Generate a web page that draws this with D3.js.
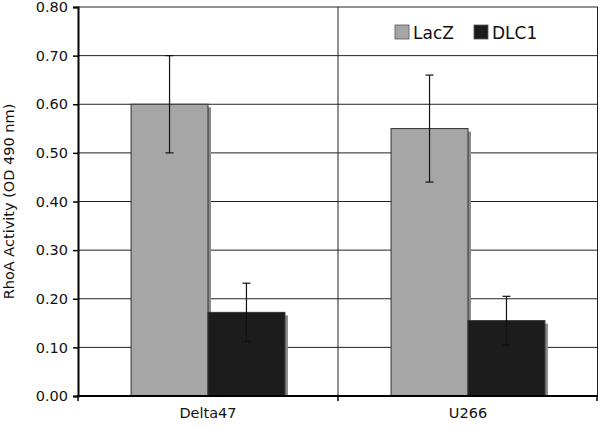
<!DOCTYPE html>
<html><head><meta charset="utf-8">
<script src="https://cdn.jsdelivr.net/npm/d3@7"></script>
<style>body{margin:0;background:#fff}svg{display:block}text{font-family:"DejaVu Sans",Verdana,sans-serif;fill:#111}</style>
</head><body><svg id="c" width="600" height="428"></svg>
<script>
const categories = ["Delta47", "U266"];
const seriesNames = ["LacZ", "DLC1"];
const lacz = [0.60, 0.55];
const laczErr = [0.10, 0.11];
const dlc1 = [0.172, 0.155];
const dlc1Err = [0.06, 0.05];
const yTicks = [0, 0.1, 0.2, 0.3, 0.4, 0.5, 0.6, 0.7, 0.8];
const colors = {LacZ: "#a6a6a6", DLC1: "#1c1c1c"};

const svg = d3.select("#c");
const m = {l: 78, r: 2, t: 7, b: 32};
const W = 600, H = 428;
const x = d3.scaleBand().domain(categories).range([m.l, W - m.r]);
const xs = d3.scaleBand().domain(seriesNames).range([0, x.bandwidth()]).paddingOuter(0.69).paddingInner(0);
const y = d3.scaleLinear().domain([0, 0.8]).range([H - m.b, m.t]);

// gridlines
svg.append("g").selectAll("line").data(yTicks.slice(1)).join("line")
  .attr("x1", m.l).attr("x2", W - m.r).attr("y1", d => y(d)).attr("y2", d => y(d))
  .attr("stroke", "#222").attr("stroke-width", 1);
// vertical separators
svg.append("g").selectAll("line").data([categories[1], null]).join("line")
  .attr("x1", d => d ? x(d) : W - m.r - 0.5).attr("x2", d => d ? x(d) : W - m.r - 0.5)
  .attr("y1", m.t).attr("y2", y(0)).attr("stroke", "#222").attr("stroke-width", 1);

const data = [];
categories.forEach((c, i) => {
  data.push({c, s: "LacZ", v: lacz[i], e: laczErr[i]});
  data.push({c, s: "DLC1", v: dlc1[i], e: dlc1Err[i]});
});
const g = svg.append("g");
// shadows
g.selectAll("rect.sh").data(data).join("rect").attr("class", "sh")
  .attr("x", d => x(d.c) + xs(d.s) + 3).attr("y", d => y(d.v) + 3)
  .attr("width", xs.bandwidth()).attr("height", d => y(0) - y(d.v) - 3)
  .attr("fill", "#8a8a8a");
g.selectAll("rect.b").data(data).join("rect").attr("class", "b")
  .attr("x", d => x(d.c) + xs(d.s)).attr("y", d => y(d.v))
  .attr("width", xs.bandwidth()).attr("height", d => y(0) - y(d.v))
  .attr("fill", d => colors[d.s]).attr("stroke", "#333").attr("stroke-width", 1);
// error bars
const eb = g.selectAll("g.eb").data(data).join("g").attr("class", "eb")
  .attr("stroke", "#111").attr("stroke-width", 1.2);
eb.append("line").attr("x1", d => x(d.c) + xs(d.s) + xs.bandwidth() / 2).attr("x2", d => x(d.c) + xs(d.s) + xs.bandwidth() / 2)
  .attr("y1", d => y(d.v + d.e)).attr("y2", d => y(d.v - d.e));
[1, -1].forEach(sg => {
  eb.append("line").attr("x1", d => x(d.c) + xs(d.s) + xs.bandwidth() / 2 - 4).attr("x2", d => x(d.c) + xs(d.s) + xs.bandwidth() / 2 + 4)
    .attr("y1", d => y(d.v + sg * d.e)).attr("y2", d => y(d.v + sg * d.e));
});

// y axis
const ya = svg.append("g").attr("transform", `translate(${m.l},0)`)
  .call(d3.axisLeft(y).tickValues(yTicks).tickFormat(d3.format(".2f")).tickSize(5).tickPadding(5));
ya.select(".domain").attr("stroke", "#000").attr("stroke-width", 2);
ya.selectAll(".tick line").attr("stroke", "#000").attr("stroke-width", 1.5);
ya.selectAll("text").attr("font-size", 14.5).attr("font-family", "DejaVu Sans").attr("fill", "#111");

// x axis
svg.append("line").attr("x1", m.l - 1).attr("x2", W - m.r).attr("y1", y(0)).attr("y2", y(0))
  .attr("stroke", "#000").attr("stroke-width", 2);
svg.append("g").selectAll("line").data([m.l, x(categories[1]), W - m.r - 1]).join("line")
  .attr("x1", d => d).attr("x2", d => d).attr("y1", y(0)).attr("y2", y(0) + 5)
  .attr("stroke", "#000").attr("stroke-width", 1.5);
svg.append("g").selectAll("text").data(categories).join("text")
  .attr("x", d => x(d) + x.bandwidth() / 2).attr("y", 418).attr("text-anchor", "middle")
  .attr("font-size", 14.5).text(d => d);

// y title
svg.append("text").attr("transform", `translate(14,${(m.t + y(0)) / 2}) rotate(-90)`)
  .attr("text-anchor", "middle").attr("font-size", 14.5).text("RhoA Activity (OD 490 nm)");

// legend
const lg = svg.append("g");
const lx = [395, 474];
seriesNames.forEach((s, i) => {
  lg.append("rect").attr("x", lx[i]).attr("y", 25).attr("width", 14).attr("height", 14)
    .attr("fill", colors[s]).attr("stroke", "#555").attr("stroke-width", 0.8);
  lg.append("text").attr("x", lx[i] + 18).attr("y", 39).attr("font-size", 17).text(s);
});
</script></body></html>
